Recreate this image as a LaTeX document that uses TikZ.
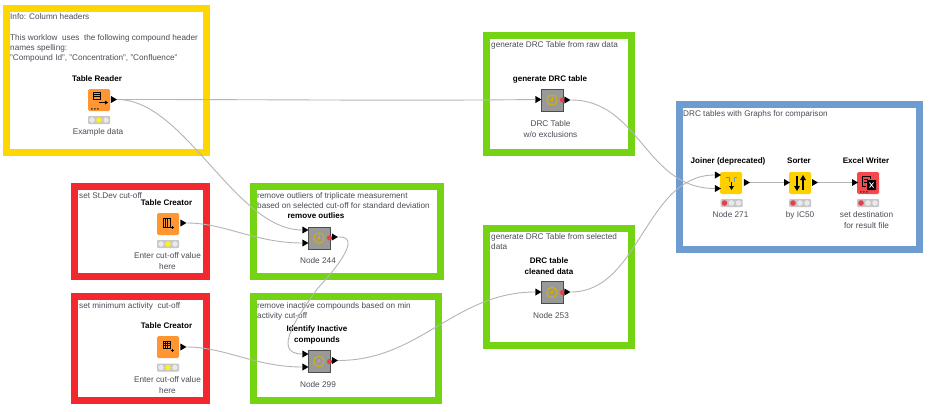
\documentclass[tikz,border=0pt]{standalone}
\usepackage{fontspec}
\setmainfont{Liberation Sans}
\usetikzlibrary{shapes.geometric}
\definecolor{fy}{HTML}{FFD700}
\definecolor{fr}{HTML}{F2282E}
\definecolor{fg}{HTML}{74D414}
\definecolor{fb}{HTML}{6E9CD0}
\definecolor{txt}{HTML}{4C4C58}
\definecolor{wire}{HTML}{B4B4B4}
\definecolor{org}{HTML}{FF9632}
\definecolor{ylw}{HTML}{FFD000}
\definecolor{rdn}{HTML}{F9474E}
\definecolor{off}{HTML}{E9E9E9}
\definecolor{lr}{HTML}{E8404A}
\definecolor{ly}{HTML}{FFF020}
\tikzset{
 frame/.style={draw=#1,line width=7pt,fill=white},
 note/.style={anchor=north west,inner sep=0pt,align=left,text=txt,font=\fontsize{8.2}{10.3}\selectfont},
 title/.style={inner sep=0pt,align=center,text=black,font=\fontsize{8.05}{10.3}\selectfont\bfseries},
 lbl/.style={inner sep=0pt,align=center,text=txt,font=\fontsize{8.25}{10.3}\selectfont},
 icon/.style={minimum size=22pt,inner sep=0pt,rounded corners=1.5pt},
 meta/.style={minimum size=22pt,inner sep=0pt,draw=black!70,line width=0.8pt,fill=black!40},
 lamp/.style={minimum width=22pt,minimum height=8pt,inner sep=0pt,fill=black!22,rounded corners=1pt},
 port/.style={isosceles triangle,isosceles triangle apex angle=70,minimum height=6pt,minimum width=7pt,inner sep=0pt,fill=black,isosceles triangle stretches},
 wirel/.style={draw=wire,line width=0.9pt},
}
\newcommand{\lampset}[5]{%
 \node[lamp] (#1) at (#2,#3) {};
 \fill[#4] (#2-7,#3) circle (2.8pt);
 \fill[#5] (#2,#3) circle (2.8pt);
 \fill[off] (#2+7,#3) circle (2.8pt);
}
\newcommand{\clockglyph}[2]{%
 \draw[ylw!85!black,line width=0.9pt] (#1,#2) circle (5.2pt);
 \draw[ylw!85!black,line width=0.8pt] (#1,#2-3) -- (#1,#2) -- (#1-2.5,#2);
 \fill[lr] (#1+10.5,#2) circle (2.6pt);
}
\newcommand{\threedots}[2]{%
 \fill[black!75] (#1-8,#2+8) rectangle ++(1.6,1.6) (#1-5,#2+8) rectangle ++(1.6,1.6) (#1-2,#2+8) rectangle ++(1.6,1.6);
}
\begin{document}
\begin{tikzpicture}[x=1pt,y=-1pt]
\useasboundingbox (0,0) rectangle (934,412);
\fill[white] (0,0) rectangle (934,412);
% frames
\draw[frame=fy] (6.5,8.5) rectangle (206.5,152.5);
\draw[frame=fr] (74.5,186.5) rectangle (206.5,276);
\draw[frame=fr] (74.5,296.5) rectangle (206.5,400);
\draw[frame=fg] (253.5,186.5) rectangle (440,276);
\draw[frame=fg] (253.5,296.5) rectangle (438.5,400);
\draw[frame=fg] (486.5,36) rectangle (631.5,152.5);
\draw[frame=fg] (486.5,228) rectangle (631.5,345.5);
\draw[frame=fb] (679,104.5) rectangle (919.5,249);
% annotations
\node[note] (n1) at (10,13.3) {Info: Column headers\\[10.3pt]This worklow~ uses~ the following compound header\\names spelling:\\"Compound Id", "Concentration", "Confluence"};
\node[note] (n2) at (79,192.3) {set St.Dev cut-off};
\node[note] (n3) at (79,302.3) {set minimum activity~ cut-off};
\node[note] (n4) at (257,192.3) {remove outliers of triplicate measurement\\based on selected cut-off for standard deviation};
\node[note] (n5) at (257,302.3) {remove inactive compounds based on min\\activity cut-off};
\node[note] (n6) at (491,41.3) {generate DRC Table from raw data};
\node[note] (n7) at (491,233.3) {generate DRC Table from selected\\data};
\node[note] (n8) at (683,110.3) {DRC tables with Graphs for comparison};
% node icons
\node[icon,fill=org] (reader) at (99,100) {};
\node[icon,fill=org] (tc1) at (168,224) {};
\node[icon,fill=org] (tc2) at (168,347) {};
\node[meta] (outl) at (319,238) {};
\node[meta] (inact) at (319,361.5) {};
\node[meta] (gen) at (552,100) {};
\node[meta] (clean) at (552,292.5) {};
\node[icon,fill=ylw] (join) at (731,183) {};
\node[icon,fill=ylw] (sort) at (800,183) {};
\node[icon,fill=rdn] (xls) at (868,183) {};
% glyphs
\clockglyph{319}{238}\clockglyph{319}{361.5}\clockglyph{552}{100}\clockglyph{552}{292.5}
\threedots{99}{100}\threedots{868}{183}
% reader glyph
\draw[black,line width=0.8pt] (93,92) rectangle (100,99);
\draw[black,line width=0.8pt] (93,94.3) -- (100,94.3) (93,96.6) -- (100,96.6);
\draw[black,line width=1pt] (99,102.5) -- (105,102.5);
\fill[black] (105,100.5) -- (108,102.5) -- (105,104.5) -- cycle;
% creator glyphs
\draw[black,line width=0.7pt] (163,218) rectangle (170,227);
\draw[black,line width=1pt] (165.3,218) -- (165.3,227) (167.6,218) -- (167.6,227);
\draw[black,line width=1pt] (170.5,227.5) -- (173.5,227.5) (172,226) -- (172,229);
\draw[black,line width=0.7pt] (163,341) rectangle (170,348);
\draw[black,line width=0.7pt] (165.3,341) -- (165.3,348) (167.6,341) -- (167.6,348) (163,343.3) -- (170,343.3) (163,345.6) -- (170,345.6);
\draw[black,line width=1pt] (170.5,350) -- (173.5,350) (172,348.5) -- (172,351.5);
% joiner glyph
\draw[fr!80!white,line width=0.8pt] (726,177) -- (729,177) -- (729,182);
\draw[fb,line width=0.8pt] (737,177) -- (734,177) -- (734,182);
\draw[black,line width=1pt] (731.5,182) -- (731.5,188);
\fill[black] (729,186) -- (734,186) -- (731.5,190) -- cycle;
% sorter glyph
\draw[black,line width=1.3pt] (797,176) -- (797,188) (803,178) -- (803,190);
\fill[black] (794,186) -- (800,186) -- (797,191) -- cycle;
\fill[black] (800,180) -- (806,180) -- (803,175) -- cycle;
% excel glyph
\draw[black,line width=0.7pt] (862,176) -- (870,176) -- (870,179) (862,176) -- (862,186) -- (866,186) (864,179) -- (868,179) (864,182) -- (868,182);
\fill[black,rounded corners=0.5pt] (867,180) rectangle (876,190);
\draw[white,line width=0.8pt] (869.5,182.5) -- (873.5,187.5) (873.5,182.5) -- (869.5,187.5);
% lamps
\lampset{l1}{99}{120}{off}{ly}
\lampset{l2}{168}{244}{off}{ly}
\lampset{l3}{168}{367.5}{off}{ly}
\lampset{l4}{731.5}{203}{lr}{off}
\lampset{l5}{800}{203}{lr}{off}
\lampset{l6}{868}{203}{lr}{off}
% labels
\node[title] (t1) at (97,79) {Table Reader};
\node[lbl] (c1) at (98,132) {Example data};
\node[title] (t2) at (166.5,203) {Table Creator};
\node[lbl] (c2) at (167.5,261) {Enter cut-off value\\here};
\node[title] (t3) at (166.5,326) {Table Creator};
\node[lbl] (c3) at (167.5,385) {Enter cut-off value\\here};
\node[title] (t4) at (316,216) {remove outlies};
\node[lbl] (c4) at (318,261) {Node 244};
\node[title] (t5) at (317,335) {Identify Inactive\\compounds};
\node[lbl] (c5) at (318,385) {Node 299};
\node[title] (t6) at (550,79) {generate DRC table};
\node[lbl] (c6) at (550.5,129) {DRC Table\\w/o exclusions};
\node[title] (t7) at (549,266) {DRC table\\cleaned data};
\node[lbl] (c7) at (551,316) {Node 253};
\node[title] (t8) at (728,161) {Joiner (deprecated)};
\node[lbl] (c8) at (730.5,215) {Node 271};
\node[title] (t9) at (799,161) {Sorter};
\node[lbl] (c9) at (800,215) {by IC50};
\node[title] (t10) at (866,161) {Excel Writer};
\node[lbl] (c10) at (866.5,220) {set destination\\for result file};
% ports
\node[port] (reader-o) at (113,99.5) {};
\node[port] (tc1-o) at (182.5,223) {};
\node[port] (tc2-o) at (182.5,347) {};
\node[port] (outl-i1) at (304.5,230) {};
\node[port] (outl-i2) at (304.5,243) {};
\node[port] (outl-o) at (334,237) {};
\node[port] (inact-i1) at (304.5,354) {};
\node[port] (inact-i2) at (304.5,367) {};
\node[port] (inact-o) at (334,360.5) {};
\node[port] (gen-i) at (537.5,99.5) {};
\node[port] (gen-o) at (566.5,100) {};
\node[port] (clean-i) at (537.5,292) {};
\node[port] (clean-o) at (566.5,292) {};
\node[port] (join-i1) at (717,175) {};
\node[port] (join-i2) at (717,188.5) {};
\node[port] (join-o) at (746,182.5) {};
\node[port] (sort-i) at (786,182.5) {};
\node[port] (sort-o) at (814,182.5) {};
\node[port] (xls-i) at (854,182.5) {};
% connectors
\draw[wirel] (reader-o.east) .. controls (300,99.5) and (400,101) .. (gen-i.west);
\draw[wirel] (reader-o.east) .. controls (185,99.5) and (235,230) .. (outl-i1.west);
\draw[wirel] (tc1-o.east) .. controls (225,223) and (255,243) .. (outl-i2.west);
\draw[wirel] (tc2-o.east) .. controls (225,347) and (255,367) .. (inact-i2.west);
\draw[wirel] (outl-o.east) .. controls (360,236) and (342,262) .. (318,288) .. controls (300,313) and (270,354) .. (inact-i1.west);
\draw[wirel] (inact-o.east) .. controls (420,360.5) and (455,292) .. (clean-i.west);
\draw[wirel] (gen-o.east) .. controls (640,100) and (645,188.5) .. (join-i2.west);
\draw[wirel] (clean-o.east) .. controls (640,292) and (645,175) .. (join-i1.west);
\draw[wirel] (join-o.east) -- (sort-i.west);
\draw[wirel] (sort-o.east) -- (xls-i.west);
\end{tikzpicture}
\end{document}
